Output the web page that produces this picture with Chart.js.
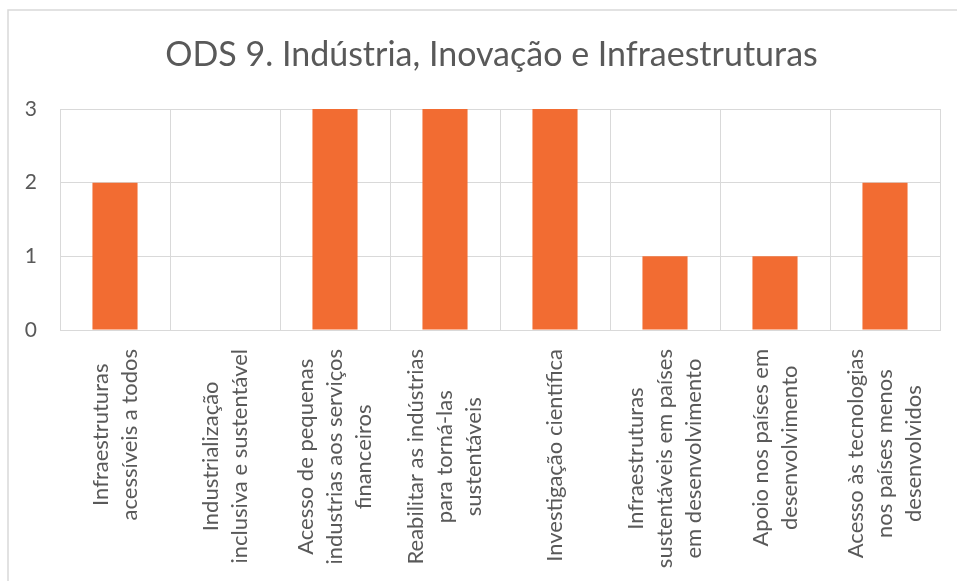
<!DOCTYPE html>
<html>
<head>
<meta charset="utf-8">
<script src="https://cdn.jsdelivr.net/npm/chart.js@4/dist/chart.umd.min.js"></script>
<style>
  html, body { margin: 0; padding: 0; background: #ffffff; }
  #wrap { width: 957px; height: 581px; position: relative; }
</style>
</head>
<body>
<div id="wrap"><canvas id="c" width="957" height="581"></canvas></div>
<script>
const chartTitle = "ODS 9. Indústria, Inovação e Infraestruturas";
const categories = [
  ["Infraestruturas", "acessíveis a todos"],
  ["Industrialização", "inclusiva e sustentável"],
  ["Acesso de pequenas", "industrias aos serviços", "financeiros"],
  ["Reabilitar as indústrias", "para torná-las", "sustentáveis"],
  ["Investigação científica"],
  ["Infraestruturas", "sustentáveis em países", "em desenvolvimento"],
  ["Apoio nos países em", "desenvolvimento"],
  ["Acesso às tecnologias", "nos países menos", "desenvolvidos"]
];
const values = [2, 0, 3, 3, 3, 1, 1, 2];
const yTicks = [0, 1, 2, 3];

const FONT = "Lato, 'Open Sans', sans-serif";
const TEXT = "#595959";
const GRID = "#d9d9d9";

const borderPlugin = {
  id: 'outerBorder',
  beforeDraw(chart) {
    const ctx = chart.ctx;
    ctx.save();
    ctx.fillStyle = '#ffffff';
    ctx.fillRect(0, 0, chart.width, chart.height);
    ctx.strokeStyle = '#d9d9d9';
    ctx.lineWidth = 1.5;
    ctx.strokeRect(8, 10, 1200, 1200);
    ctx.restore();
  }
};

// Centre the title box over the framed chart (like the reference) rather than the canvas
const titleShift = {
  id: 'titleShift',
  afterLayout(chart) {
    const tb = chart.titleBlock;
    if (tb) {
      tb.left = 43;
      tb.right = 940;
      tb.width = tb.right - tb.left;
    }
  }
};

const xLabelPlugin = {
  id: 'xLabels',
  afterDraw(chart) {
    const ctx = chart.ctx;
    const xs = chart.scales.x;
    const top = chart.chartArea.bottom + 19;
    const lh = 29;
    ctx.save();
    ctx.font = "22px " + FONT;
    ctx.fillStyle = TEXT;
    ctx.textAlign = 'center';
    ctx.textBaseline = 'middle';
    categories.forEach((lines, i) => {
      const cx = xs.getPixelForTick(i);
      const wmax = Math.max(...lines.map(l => ctx.measureText(l).width));
      const n = lines.length;
      lines.forEach((line, j) => {
        const lx = cx + (j - (n - 1) / 2) * lh;
        ctx.save();
        ctx.translate(lx, top);
        ctx.rotate(-Math.PI / 2);
        ctx.fillText(line, -wmax / 2, 0);
        ctx.restore();
      });
    });
    ctx.restore();
  }
};

new Chart(document.getElementById('c'), {
  type: 'bar',
  data: {
    labels: categories,
    datasets: [{
      data: values,
      backgroundColor: '#F26C32',
      borderWidth: 0,
      barPercentage: 0.41,
      categoryPercentage: 1.0
    }]
  },
  options: {
    responsive: false,
    animation: false,
    devicePixelRatio: 1,
    layout: { padding: { left: 0, right: 17, top: 10, bottom: 251 } },
    plugins: {
      legend: { display: false },
      tooltip: { enabled: false },
      title: {
        display: true,
        text: chartTitle,
        color: TEXT,
        font: { family: FONT, size: 34, weight: 'normal', lineHeight: 1.2 },
        padding: { top: 24.6, bottom: 33.6 }
      }
    },
    scales: {
      x: {
        ticks: { display: false },
        grid: { display: true, color: GRID, lineWidth: 1, offset: true, drawTicks: false },
        border: { display: true, color: GRID, width: 1 }
      },
      y: {
        min: 0,
        max: 3,
        afterFit(scale) { scale.width = 60; },
        afterBuildTicks(scale) { scale.ticks = yTicks.map(v => ({ value: v })); },
        ticks: { color: TEXT, font: { family: FONT, size: 21 }, padding: 23, stepSize: 1 },
        grid: { color: GRID, lineWidth: 1, drawTicks: false },
        border: { display: false }
      }
    }
  },
  plugins: [borderPlugin, titleShift, xLabelPlugin]
});
</script>
</body>
</html>
